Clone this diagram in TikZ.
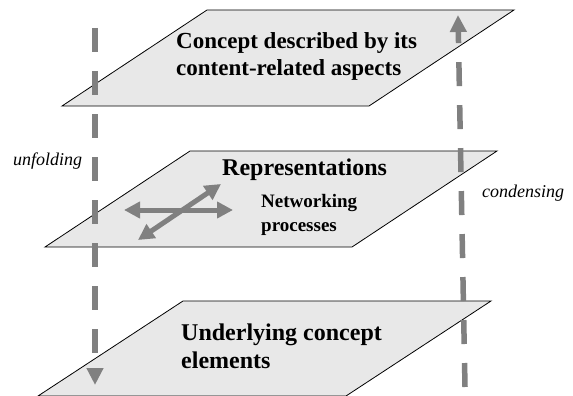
\documentclass[tikz,border=0pt]{standalone}
\usepackage{fontspec}
\setmainfont{Liberation Serif}
\usepackage{xcolor}
\definecolor{planefill}{HTML}{E8E8E8}
\definecolor{flowgray}{HTML}{808080}
\usetikzlibrary{arrows.meta}

\begin{document}
\begin{tikzpicture}[
  x=1pt,y=-1pt,
  plane/.style={draw=black,fill=planefill,line width=0.8pt},
  label/.style={anchor=base west,inner sep=0pt,align=left,
    font=\bfseries\fontsize{23}{27}\selectfont},
  side/.style={anchor=base west,inner sep=0pt,
    font=\itshape\fontsize{18}{22}\selectfont},
  flow/.style={flowgray,line width=5.5pt,dash pattern=on 24pt off 19pt,
    -{Triangle[length=17pt,width=16pt]}},
  net/.style={flowgray,line width=5pt,
    {Triangle[length=16pt,width=16pt]}-{Triangle[length=16pt,width=16pt]}}
]
  \useasboundingbox (0,0) rectangle (573,396);
  % Planes
  \path[plane] (62,106) -- (369,106) -- (514,10) -- (207,10) -- cycle;
  \path[plane] (45,247) -- (352,247) -- (497,151) -- (190,151) -- cycle;
  \path[plane] (38,396) -- (346,396) -- (491,301) -- (183,301) -- cycle;
  % Plane texts (base = last line)
  \node[label] (concept) at (176,75) {Concept described by its\\content-related aspects};
  \node[label,font=\bfseries\fontsize{24}{28}\selectfont] (repr) at (222,175) {Representations};
  \node[label,font=\bfseries\fontsize{19}{24}\selectfont] (netw) at (261,231) {Networking\\processes};
  \node[label,font=\bfseries\fontsize{24}{28}\selectfont] (elem) at (181,368) {Underlying concept\\elements};
  % Side labels
  \node[side] (unf) at (13,165) {unfolding};
  \node[side] (cond) at (482,197) {condensing};
  % Flow ends
  \coordinate (unfTop) at (95,28);
  \coordinate (unfBot) at (95,385);
  \coordinate (condBot) at (465,387);
  \coordinate (condTop) at (458,15);
  \coordinate (netL) at (124,210);
  \coordinate (netR) at (233,210);
  \coordinate (netSW) at (138,240);
  \coordinate (netNE) at (221,184);
  % Arrows
  \draw[net] (netL) -- (netR);
  \draw[net] (netSW) -- (netNE);
  \draw[flow] (unfTop) -- (unfBot);
  \draw[flow] (condBot) -- (condTop);
\end{tikzpicture}
\end{document}
